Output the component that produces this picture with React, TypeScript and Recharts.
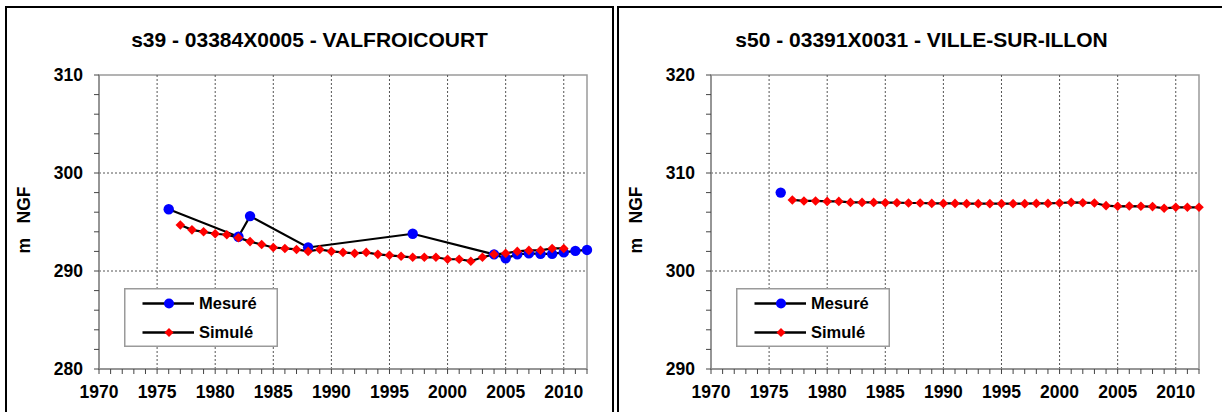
import React from 'react';
import { LineChart, Line, XAxis, YAxis, ReferenceLine, ReferenceArea } from 'recharts';

const FONT = "Arial, 'Liberation Sans', sans-serif";

// ---- axis ticks ----
const xAllTicks = [
  1970, 1971, 1972, 1973, 1974, 1975, 1976, 1977, 1978, 1979, 1980, 1981, 1982, 1983, 1984,
  1985, 1986, 1987, 1988, 1989, 1990, 1991, 1992, 1993, 1994, 1995, 1996, 1997, 1998, 1999,
  2000, 2001, 2002, 2003, 2004, 2005, 2006, 2007, 2008, 2009, 2010, 2011, 2012,
];
const xMajorTicks = [1970, 1975, 1980, 1985, 1990, 1995, 2000, 2005, 2010];
const xGridLines = [1975, 1980, 1985, 1990, 1995, 2000, 2005, 2010];

const leftYTicks = [280, 282, 284, 286, 288, 290, 292, 294, 296, 298, 300, 302, 304, 306, 308, 310];
const leftYGrid = [290, 300];
const rightYTicks = [290, 292, 294, 296, 298, 300, 302, 304, 306, 308, 310, 312, 314, 316, 318, 320];
const rightYGrid = [300, 310];

// ---- titles / labels ----
const leftTitle = 's39 - 03384X0005 - VALFROICOURT';
const rightTitle = 's50 - 03391X0031 - VILLE-SUR-ILLON';
const yAxisLabel = 'm\u00a0\u00a0\u00a0NGF';
const seriesNames = ['Mesuré', 'Simulé'];

// ---- left panel data ----
const leftMesureYears = [1976, 1982, 1983, 1988, 1997, 2004, 2005, 2006, 2007, 2008, 2009, 2010, 2011, 2012];
const leftMesureValues = [296.3, 293.5, 295.6, 292.4, 293.8, 291.7, 291.3, 291.7, 291.8, 291.75, 291.75, 291.9, 292.05, 292.15];

const leftSimuleYears = [
  1977, 1978, 1979, 1980, 1981, 1982, 1983, 1984, 1985, 1986, 1987, 1988, 1989, 1990, 1991, 1992, 1993,
  1994, 1995, 1996, 1997, 1998, 1999, 2000, 2001, 2002, 2003, 2004, 2005, 2006, 2007, 2008, 2009, 2010,
];
const leftSimuleValues = [
  294.7, 294.2, 294.0, 293.8, 293.7, 293.4, 293.0, 292.7, 292.4, 292.3, 292.2, 292.0, 292.2, 292.0, 291.9, 291.8, 291.9,
  291.7, 291.6, 291.5, 291.4, 291.4, 291.4, 291.2, 291.2, 291.0, 291.4, 291.7, 291.8, 292.0, 292.1, 292.1, 292.3, 292.3,
];

// ---- right panel data ----
const rightMesureYears = [1976];
const rightMesureValues = [308.0];

const rightSimuleYears = [
  1977, 1978, 1979, 1980, 1981, 1982, 1983, 1984, 1985, 1986, 1987, 1988, 1989, 1990, 1991, 1992, 1993, 1994,
  1995, 1996, 1997, 1998, 1999, 2000, 2001, 2002, 2003, 2004, 2005, 2006, 2007, 2008, 2009, 2010, 2011, 2012,
];
const rightSimuleValues = [
  307.25, 307.15, 307.15, 307.1, 307.1, 307.0, 307.0, 307.0, 306.97, 306.97, 306.94, 306.94, 306.9, 306.9, 306.9, 306.87, 306.87, 306.87,
  306.87, 306.87, 306.87, 306.9, 306.9, 306.94, 307.0, 306.97, 306.94, 306.67, 306.6, 306.63, 306.6, 306.57, 306.4, 306.5, 306.5, 306.5,
];

const toRows = (years: number[], values: number[]) => years.map((year, i) => ({ year, value: values[i] }));

const BLUE = '#0000FF';
const RED = '#FF0000';

const BlueDot = (props: any) => {
  const { cx, cy, index } = props;
  if (cx == null || cy == null) return <g key={`b${index}`} />;
  return <circle key={`b${index}`} cx={cx} cy={cy} r={5.2} fill={BLUE} stroke="none" />;
};

const RedDiamond = (props: any) => {
  const { cx, cy, index } = props;
  if (cx == null || cy == null) return <g key={`r${index}`} />;
  const s = 4.8;
  return (
    <path
      key={`r${index}`}
      d={`M${cx},${cy - s} L${cx + s},${cy} L${cx},${cy + s} L${cx - s},${cy} Z`}
      fill={RED}
      stroke="none"
    />
  );
};

const XTick = (props: any) => {
  const { x, y, payload } = props;
  const v = payload.value;
  const major = xMajorTicks.includes(v);
  return (
    <g>
      <line x1={x} x2={x} y1={y} y2={y + 5} stroke="#444" strokeWidth={1} />
      {major && (
        <text x={x} y={y + 29} textAnchor="middle" fontFamily={FONT} fontWeight="bold" fontSize={17.5} fill="#000">
          {v}
        </text>
      )}
    </g>
  );
};

const makeYTick = (majors: number[]) => (props: any) => {
  const { x, y, payload } = props;
  const v = payload.value;
  return (
    <g>
      <line x1={x - 5} x2={x} y1={y} y2={y} stroke="#444" strokeWidth={1} />
      {majors.includes(v) && (
        <text x={x - 16} y={y + 6} textAnchor="end" fontFamily={FONT} fontWeight="bold" fontSize={17.5} fill="#000">
          {v}
        </text>
      )}
    </g>
  );
};

const YLabel = (props: any) => {
  const vb = props.viewBox || { x: 0, y: 75, width: 94, height: 294 };
  const x = vb.x + 25;
  const y = vb.y + vb.height / 2 - 2;
  return (
    <text
      x={x}
      y={y}
      transform={`rotate(-90, ${x}, ${y})`}
      textAnchor="middle"
      fontFamily={FONT}
      fontWeight="bold"
      fontSize={17.5}
      fill="#000"
    >
      {yAxisLabel}
    </text>
  );
};

const LegendBox = ({ left }: { left: number }) => (
  <svg
    width={155}
    height={60}
    style={{ position: 'absolute', left, top: 287.5, overflow: 'visible' }}
  >
    <rect x={0.75} y={0.75} width={152.5} height={57.5} fill="#fff" stroke="#9a9a9a" strokeWidth={1.5} />
    {seriesNames.map((name, i) => {
      const cy = 15.5 + i * 29;
      return (
        <g key={name}>
          <line x1={18.5} x2={70} y1={cy} y2={cy} stroke="#000" strokeWidth={2.5} />
          {i === 0 ? (
            <circle cx={45} cy={cy} r={5} fill={BLUE} />
          ) : (
            <path d={`M45,${cy - 4.5} L49.5,${cy} L45,${cy + 4.5} L40.5,${cy} Z`} fill={RED} />
          )}
          <text x={75} y={cy + 5.8} fontFamily={FONT} fontWeight="bold" fontSize={16.5} fill="#000">
            {name}
          </text>
        </g>
      );
    })}
  </svg>
);

type PanelProps = {
  left: number;
  title: string;
  yDomain: [number, number];
  yTicks: number[];
  yGrid: number[];
  yMajor: number[];
  mesure: { year: number; value: number }[];
  simule: { year: number; value: number }[];
};

const CHART_W = 609;
const CHART_H = 412;

const Panel = ({ left, title, yDomain, yTicks, yGrid, yMajor, mesure, simule }: PanelProps) => (
  <>
    <div
      style={{
        position: 'absolute',
        left,
        top: 6,
        width: CHART_W,
        height: 430,
        border: '2px solid #000',
        boxSizing: 'border-box',
      }}
    />
    <div
      style={{
        position: 'absolute',
        left,
        top: 28,
        width: CHART_W,
        textAlign: 'center',
        fontFamily: FONT,
        fontWeight: 'bold',
        fontSize: 21,
        lineHeight: '24px',
        color: '#000',
        whiteSpace: 'nowrap',
      }}
    >
      {title}
    </div>
    <div style={{ position: 'absolute', left, top: 0 }}>
      <LineChart width={CHART_W} height={CHART_H} margin={{ top: 75, right: 27, bottom: 0, left: 0 }}>
        <XAxis
          dataKey="year"
          type="number"
          domain={[1970, 2012]}
          ticks={xAllTicks}
          interval={0}
          tickSize={0}
          tickMargin={0}
          tickLine={false}
          tick={<XTick />}
          height={43}
          axisLine={{ stroke: '#8c8c8c', strokeWidth: 1.5 }}
          allowDuplicatedCategory={false}
        />
        <YAxis
          type="number"
          domain={yDomain}
          ticks={yTicks}
          interval={0}
          tickSize={0}
          tickMargin={0}
          tickLine={false}
          tick={makeYTick(yMajor)}
          width={94}
          axisLine={{ stroke: '#8c8c8c', strokeWidth: 1.5 }}
          label={{ content: YLabel }}
        />
        {xGridLines.map((v) => (
          <ReferenceLine key={`gx${v}`} x={v} stroke="#555" strokeWidth={1} strokeDasharray="2 2" />
        ))}
        {yGrid.map((v) => (
          <ReferenceLine key={`gy${v}`} y={v} stroke="#555" strokeWidth={1} strokeDasharray="2 2" />
        ))}
        <ReferenceArea
          x1={1970}
          x2={2012}
          y1={yDomain[0]}
          y2={yDomain[1]}
          fill="none"
          fillOpacity={0}
          stroke="#9a9a9a"
          strokeWidth={1.5}
        />
        <Line
          data={mesure}
          dataKey="value"
          name={seriesNames[0]}
          stroke="#000"
          strokeWidth={2.2}
          dot={BlueDot}
          activeDot={false}
          isAnimationActive={false}
        />
        <Line
          data={simule}
          dataKey="value"
          name={seriesNames[1]}
          stroke="#000"
          strokeWidth={2.2}
          dot={RedDiamond}
          activeDot={false}
          isAnimationActive={false}
        />
      </LineChart>
    </div>
    <LegendBox left={left + 118.5} />
  </>
);

export default function App() {
  return (
    <div
      style={{
        position: 'absolute',
        left: 0,
        top: 0,
        width: 1222,
        height: 412,
        overflow: 'hidden',
        background: '#fff',
      }}
    >
      <Panel
        left={5}
        title={leftTitle}
        yDomain={[280, 310]}
        yTicks={leftYTicks}
        yGrid={leftYGrid}
        yMajor={[280, 290, 300, 310]}
        mesure={toRows(leftMesureYears, leftMesureValues)}
        simule={toRows(leftSimuleYears, leftSimuleValues)}
      />
      <Panel
        left={617}
        title={rightTitle}
        yDomain={[290, 320]}
        yTicks={rightYTicks}
        yGrid={rightYGrid}
        yMajor={[290, 300, 310, 320]}
        mesure={toRows(rightMesureYears, rightMesureValues)}
        simule={toRows(rightSimuleYears, rightSimuleValues)}
      />
    </div>
  );
}
